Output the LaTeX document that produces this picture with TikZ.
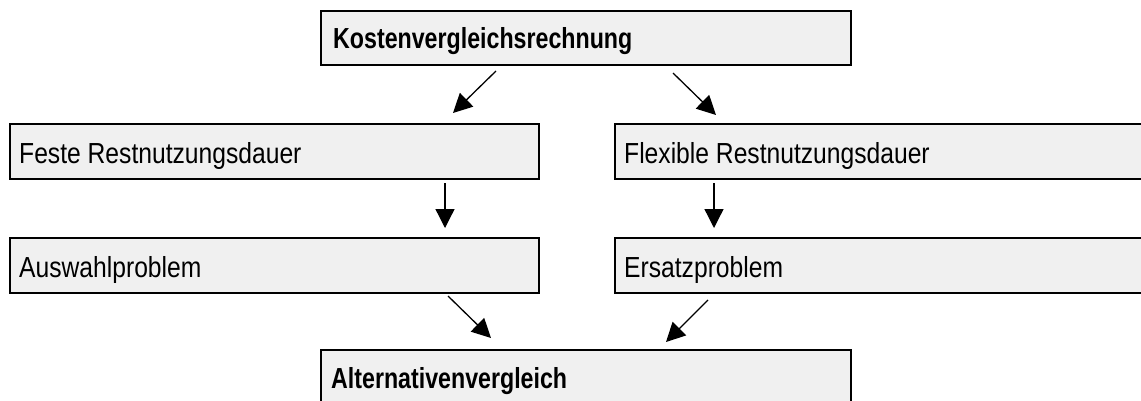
\documentclass[tikz,border=0pt]{standalone}
\usepackage{fontspec}
\usetikzlibrary{arrows.meta}
\newfontfamily\nfont{Liberation Sans}[FakeStretch=0.85]
\newfontfamily\bfont{Liberation Sans Bold}[FakeStretch=0.80]
\definecolor{boxfill}{HTML}{F0F0F0}
\begin{document}
\begin{tikzpicture}[x=1pt,y=-1pt,
  box/.style={draw=black, line width=2pt, fill=boxfill, rectangle, outer sep=0pt, inner sep=0pt, anchor=north west},
  lbl/.style={anchor=base west, inner sep=0pt, font=\nfont\fontsize{29}{34}\selectfont},
  blbl/.style={anchor=base west, inner sep=0pt, font=\bfont\fontsize{29}{34}\selectfont},
  arr/.style={line width=1.3pt, -{Triangle[length=19pt,width=19pt]}}]
\clip (0,0) rectangle (1141,400);
\useasboundingbox (0,0) rectangle (1141,400);
% boxes
\node[box, minimum width=530pt, minimum height=54pt] (k) at (321,11) {};
\node[box, minimum width=529pt, minimum height=55pt] (feste) at (10,124) {};
\node[box, minimum width=540pt, minimum height=55pt] (flex) at (615,124) {};
\node[box, minimum width=529pt, minimum height=55pt] (ausw) at (10,238) {};
\node[box, minimum width=540pt, minimum height=55pt] (ers) at (615,238) {};
\node[box, minimum width=530pt, minimum height=60pt] (alt) at (321,350) {};
% labels
\node[blbl] (kt) at ([xshift=12pt,yshift=-37pt]k.north west) {Kostenvergleichsrechnung};
\node[lbl] (festet) at ([xshift=9pt,yshift=-39pt]feste.north west) {Feste Restnutzungsdauer};
\node[lbl] (flext) at ([xshift=9pt,yshift=-39pt]flex.north west) {Flexible Restnutzungsdauer};
\node[lbl] (auswt) at ([xshift=9pt,yshift=-39pt]ausw.north west) {Auswahlproblem};
\node[lbl] (erst) at ([xshift=9pt,yshift=-39pt]ers.north west) {Ersatzproblem};
\node[blbl] (altt) at ([xshift=10pt,yshift=-38pt]alt.north west) {Alternativenvergleich};
% arrows
\draw[arr] ([xshift=175pt,yshift=-6pt]k.south west) -- ([xshift=443pt,yshift=11pt]feste.north west);
\draw[arr] ([xshift=352pt,yshift=-8pt]k.south west) -- ([xshift=101pt,yshift=9pt]flex.north west);
\draw[arr] ([xshift=435pt,yshift=-4pt]feste.south west) -- ([xshift=435pt,yshift=10pt]ausw.north west);
\draw[arr] ([xshift=99pt,yshift=-4pt]flex.south west) -- ([xshift=99pt,yshift=10pt]ers.north west);
\draw[arr] ([xshift=438pt,yshift=-3pt]ausw.south west) -- ([xshift=170pt,yshift=12pt]alt.north west);
\draw[arr] ([xshift=93pt,yshift=-7pt]ers.south west) -- ([xshift=345pt,yshift=8pt]alt.north west);
\end{tikzpicture}
\end{document}
